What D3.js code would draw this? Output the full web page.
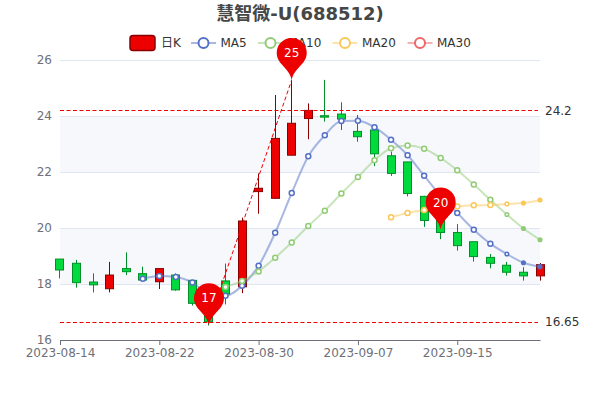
<!DOCTYPE html>
<html>
<head>
<meta charset="utf-8">
<script src="https://cdnjs.cloudflare.com/ajax/libs/d3/7.8.5/d3.min.js"></script>
<style>
  html, body { margin: 0; padding: 0; background: #fff; }
  svg, svg text { font-family: "DejaVu Sans", "Noto Sans CJK SC", sans-serif; }
  svg { display: block; }
</style>
</head>
<body>
<div id="chart"></div>
<script>
const dates = [
  "2023-08-14","2023-08-15","2023-08-16","2023-08-17","2023-08-18","2023-08-21",
  "2023-08-22","2023-08-23","2023-08-24","2023-08-25","2023-08-28","2023-08-29",
  "2023-08-30","2023-08-31","2023-09-01","2023-09-04","2023-09-05","2023-09-06",
  "2023-09-07","2023-09-08","2023-09-11","2023-09-12","2023-09-13","2023-09-14",
  "2023-09-15","2023-09-18","2023-09-19","2023-09-20","2023-09-21","2023-09-22"
];
const open  = [18.89,18.74,18.07,17.83,18.55,18.37,18.08,18.32,18.13,17.35,18.11,17.90,21.30,21.06,22.60,23.91,24.01,24.07,23.45,23.50,22.58,22.36,21.13,20.80,19.84,19.51,18.95,18.67,18.42,18.29];
const close = [18.50,18.05,17.97,18.32,18.44,18.14,18.55,17.79,17.31,16.65,17.64,20.25,21.42,23.20,23.74,24.20,23.96,23.89,23.26,22.65,21.95,21.23,20.27,19.84,19.37,18.98,18.74,18.42,18.29,18.69];
const low   = [18.20,17.87,17.70,17.70,18.32,18.14,17.82,17.76,17.23,16.52,17.27,17.67,20.51,21.04,22.60,23.17,23.80,23.50,23.08,22.21,21.86,21.13,20.04,19.60,19.19,18.80,18.56,18.30,18.12,18.12];
const high  = [18.89,18.86,18.38,18.79,19.13,18.62,18.55,18.38,18.13,17.50,18.73,20.37,21.95,24.75,25.29,24.45,25.29,24.49,24.04,23.68,22.73,22.36,21.15,20.90,20.14,19.51,19.07,18.79,18.60,18.75];

const ma5  = [null,null,null,null,null,18.19,18.29,18.25,18.05,17.65,17.58,17.94,18.65,19.83,21.25,22.56,23.31,23.82,23.83,23.60,23.15,22.60,21.87,21.15,20.54,19.94,19.44,19.07,18.76,18.62];
const ma10 = [null,null,null,null,null,null,null,null,null,null,17.89,18.11,18.45,18.94,19.48,20.07,20.62,21.23,21.82,22.42,22.85,22.95,22.83,22.50,22.06,21.55,21.01,20.48,19.98,19.58];
const ma20 = [null,null,null,null,null,null,null,null,null,null,null,null,null,null,null,null,null,null,null,null,20.38,20.54,20.64,20.72,20.77,20.81,20.82,20.86,20.89,21.00];

const xTickDates = ["2023-08-14","2023-08-22","2023-08-30","2023-09-07","2023-09-15"];
const yTicks = [16,18,20,22,24,26];
const hLines = [24.2, 16.65];
const hLineLabels = ["24.2", "16.65"];
const pinDates  = ["2023-09-01","2023-08-25","2023-09-14"];
const pinValues = [25.29,16.53,19.95];
const pinLabels = ["25","17","20"];
const legendNames = ["MA5","MA10","MA20","MA30"];

const RED = "#ec0000", RED_DARK = "#8a0000", GREEN = "#00da3c", GREEN_DARK = "#008f28";
const MA_COLORS = ["#5470c6","#91cc75","#fac858","#ee6666"];

const W = 600, H = 400, pad = { t: 60, r: 60, b: 60, l: 60 };

const svg = d3.select("#chart").append("svg").attr("width", W).attr("height", H);

const x = d3.scalePoint().domain(dates).range([pad.l, W - pad.r]);
const y = d3.scaleLinear().domain([16, 26]).range([H - pad.b, pad.t]);

// Legend goes first so the 25 pin sits over it
const legendY = 43;
const legend = svg.append("g");
legend.append("rect")
  .attr("x", 130).attr("y", legendY - 7.5).attr("width", 25).attr("height", 15).attr("rx", 3)
  .attr("fill", RED).attr("stroke", RED_DARK).attr("stroke-width", 1.5);
legend.append("text")
  .attr("x", 161).attr("y", legendY).attr("dy", "0.35em")
  .attr("font-size", 12).attr("fill", "#333").text("日K");
const legendCenters = d3.scaleOrdinal().domain(legendNames).range([203.5, 270.5, 345, 420]);
legendNames.forEach((name, k) => {
  const cx = legendCenters(name);
  legend.append("line")
    .attr("x1", cx - 12.5).attr("x2", cx + 12.5)
    .attr("y1", legendY).attr("y2", legendY)
    .attr("stroke", MA_COLORS[k]).attr("stroke-width", 2).attr("stroke-opacity", 0.5);
  legend.append("circle")
    .attr("cx", cx).attr("cy", legendY).attr("r", 5)
    .attr("fill", "#fff").attr("stroke", MA_COLORS[k]).attr("stroke-width", 2);
  legend.append("text")
    .attr("x", cx + 17).attr("y", legendY).attr("dy", "0.35em")
    .attr("font-size", 12).attr("fill", "#333").text(name);
});

// Split areas and lines
const bands = d3.pairs(yTicks);
svg.append("g").selectAll("rect").data(bands).join("rect")
  .attr("x", pad.l)
  .attr("width", W - pad.l - pad.r)
  .attr("y", d => y(d[1]))
  .attr("height", d => y(d[0]) - y(d[1]))
  .attr("fill", (d, i) => i % 2 === 1 ? "#f6f8fc" : "#fff");

svg.append("g").selectAll("line").data(yTicks.slice(1)).join("line")
  .attr("x1", pad.l).attr("x2", W - pad.r)
  .attr("y1", d => y(d) + 0.5).attr("y2", d => y(d) + 0.5)
  .attr("stroke", "#e0e6f1");

// Axes
const yAxisG = svg.append("g").attr("transform", `translate(${pad.l},0)`)
  .call(d3.axisLeft(y).tickValues(yTicks).tickSize(0).tickPadding(8));
yAxisG.select(".domain").remove();
yAxisG.selectAll("text").attr("font-size", 12).attr("fill", "#6e7079");

const xAxisG = svg.append("g").attr("transform", `translate(0,${H - pad.b})`)
  .call(d3.axisBottom(x).tickValues(xTickDates).tickSize(5).tickPadding(3).tickSizeOuter(0));
xAxisG.select(".domain").attr("stroke", "#6e7079");
xAxisG.selectAll("line").attr("stroke", "#6e7079");
xAxisG.selectAll("text").attr("font-size", 12).attr("fill", "#6e7079");

// Candles
const candleW = 8;
const candles = svg.append("g").selectAll("g").data(dates).join("g");
const isUp = i => close[i] > open[i];
const crisp = d => Math.floor(x(d)) + 0.5;
candles.append("line")
  .attr("x1", crisp).attr("x2", crisp)
  .attr("y1", (d, i) => y(high[i])).attr("y2", (d, i) => y(low[i]))
  .attr("stroke", (d, i) => isUp(i) ? RED_DARK : GREEN_DARK);
candles.append("rect")
  .attr("x", d => crisp(d) - candleW / 2)
  .attr("width", candleW)
  .attr("y", (d, i) => y(Math.max(open[i], close[i])))
  .attr("height", (d, i) => Math.abs(y(open[i]) - y(close[i])))
  .attr("fill", (d, i) => isUp(i) ? RED : GREEN)
  .attr("stroke", (d, i) => isUp(i) ? RED_DARK : GREEN_DARK);

// Moving averages
const maLine = d3.line()
  .defined(d => d[1] !== null)
  .x(d => x(d[0]))
  .y(d => y(d[1]))
  .curve(d3.curveMonotoneX);

[ma5, ma10, ma20].forEach((series, k) => {
  const pts = dates.map((d, i) => [d, series[i], i]);
  svg.append("path")
    .attr("d", maLine(pts))
    .attr("fill", "none")
    .attr("stroke", MA_COLORS[k])
    .attr("stroke-width", 2)
    .attr("stroke-opacity", 0.5);
  // last few symbols are smaller and solid in the reference
  svg.append("g").selectAll("circle").data(pts.filter(p => p[1] !== null)).join("circle")
    .attr("cx", d => x(d[0]))
    .attr("cy", d => y(d[1]))
    .attr("r", d => d[2] >= 27 ? 1.8 : 2.5)
    .attr("fill", d => d[2] >= 28 ? MA_COLORS[k] : "#fff")
    .attr("stroke", MA_COLORS[k])
    .attr("stroke-width", 1.5);
});

// Mark lines
const markG = svg.append("g");
hLines.forEach((v, i) => {
  markG.append("line")
    .attr("x1", pad.l).attr("x2", W - pad.r - 2)
    .attr("y1", Math.round(y(v)) + 0.5).attr("y2", Math.round(y(v)) + 0.5)
    .attr("stroke", "#f00000").attr("stroke-dasharray", "4 2.5");
  markG.append("text")
    .attr("x", W - pad.r + 5).attr("y", y(v)).attr("dy", "0.35em")
    .attr("font-size", 12).attr("fill", "#333")
    .text(hLineLabels[i]);
});
markG.append("line")
  .attr("x1", x(pinDates[1])).attr("y1", y(hLines[1]))
  .attr("x2", x(pinDates[0])).attr("y2", y(pinValues[0]))
  .attr("stroke", "#f00000").attr("stroke-dasharray", "4 2.5");

// Pins
function pinPath(r, h) {
  const p = d3.path();
  p.moveTo(0, 0);
  p.bezierCurveTo(-2, -h * 0.28, -r, -h + r * 1.75, -r, -h + r);
  p.arc(0, -h + r, r, Math.PI, 0);
  p.bezierCurveTo(r, -h + r * 1.75, 2, -h * 0.28, 0, 0);
  p.closePath();
  return p.toString();
}
const pins = svg.append("g").selectAll("g").data(pinDates).join("g")
  .attr("transform", (d, i) => `translate(${x(d)},${y(pinValues[i])})`);
pins.append("path").attr("d", pinPath(15, 42)).attr("fill", RED);
pins.append("text")
  .attr("y", -27).attr("dy", "0.35em")
  .attr("text-anchor", "middle")
  .attr("font-size", 12).attr("fill", "#fff")
  .text((d, i) => pinLabels[i]);

// Title
svg.append("text")
  .attr("x", W / 2).attr("y", 14).attr("dy", "0.35em")
  .attr("text-anchor", "middle")
  .attr("font-size", 18).attr("font-weight", "bold").attr("fill", "#464646")
  .text("慧智微-U(688512)");
</script>
</body>
</html>
